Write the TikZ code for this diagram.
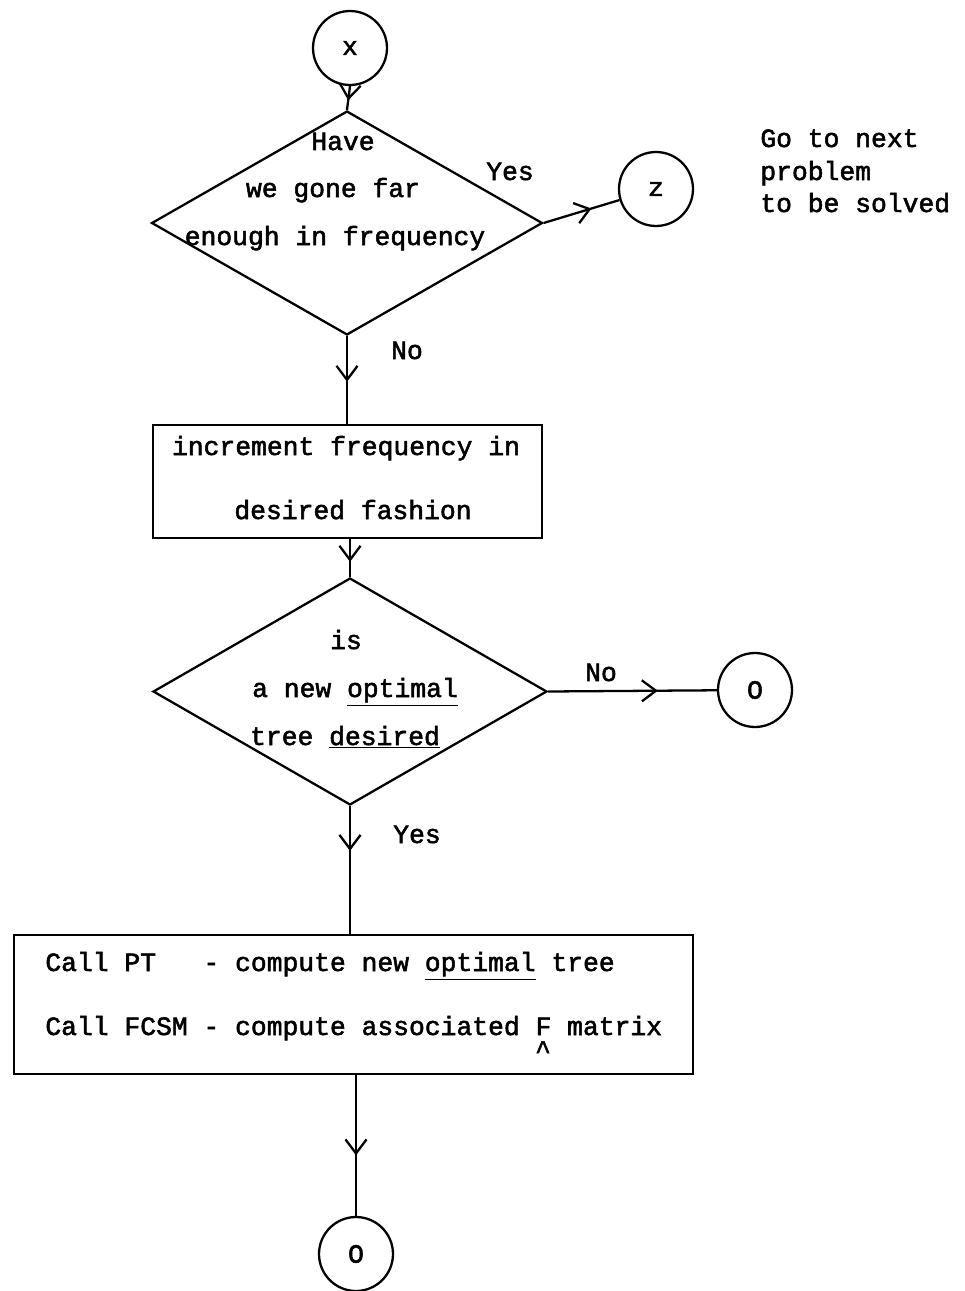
\documentclass[tikz,border=0pt]{standalone}
\usepackage{fontspec}
\newfontfamily\tw[FakeBold=2]{Liberation Mono}
\usetikzlibrary{shapes.geometric,arrows.meta,decorations.markings}
\begin{document}
\frenchspacing
\begin{tikzpicture}[x=0.02cm,y=-0.02cm,
  every node/.style={font=\tw\fontsize{15}{18}\selectfont},
  ln/.style={line width=1.3pt},
  circ/.style={draw,circle,line width=1.3pt,minimum size=1.48cm,inner sep=0pt},
  dia/.style={draw,diamond,line width=1.3pt,inner sep=0pt},
  box/.style={draw,rectangle,line width=1.3pt,inner sep=0pt},
  txt/.style={anchor=base,inner sep=0pt},
  txtl/.style={anchor=base west,inner sep=0pt},
  mid/.style={postaction={decorate},decoration={markings,mark=at position #1 with {\arrow{Straight Barb[length=8pt,width=12pt,line width=1.3pt]}}}}
]
\useasboundingbox (0,0) rectangle (964,1291);

% shapes
\node[circ] (x) at (350,48) {x};
\node[dia,minimum width=7.82cm,minimum height=4.48cm] (d1) at (347,223) {};
\node[circ] (z) at (656,189) {z};
\node[box,minimum width=7.78cm,minimum height=2.26cm] (b1) at (347.5,481.5) {};
\node[dia,minimum width=7.88cm,minimum height=4.54cm] (d2) at (350,691.5) {};
\node[circ] (o1) at (755,690) {O};
\node[box,minimum width=13.58cm,minimum height=2.78cm] (b2) at (353.5,1004.5) {};
\node[circ] (o2) at (356,1254) {O};

% texts
\node[txt] (t1) at (343,150) {Have};
\node[txt] (t2) at (333,197) {we gone far};
\node[txt] (t3) at (335,245) {enough in frequency};
\node[txt] (yes1) at (510,180) {Yes};
\node[txtl] (g1) at (760,147) {Go to next};
\node[txtl] (g2) at (760,180) {problem};
\node[txtl] (g3) at (760,212) {to be solved};
\node[txt] (no1) at (407,359) {No};
\node[txt] (b1a) at (346,455) {increment frequency in};
\node[txt] (b1b) at (353,519) {desired fashion};
\node[txt] (s1) at (346,649) {is};
\node[txt] (s2) at (355,697) {a new \underline{optimal}};
\node[txt] (s3) at (345,745) {tree \underline{desired}};
\node[txt] (no2) at (601,681) {No};
\node[txt] (yes2) at (417,843) {Yes};
\node[txtl] (c1) at (45,971) {Call PT\ \ \ - compute new \underline{optimal} tree};
\node[txtl] (c2) at (45,1035) {Call FCSM - compute associated F matrix};
\node[anchor=north,inner sep=0pt] (hat) at (543,1041) {\textasciicircum};

% connectors
\draw[ln,mid=0.6] (x.south) -- (d1.north);
\draw[ln,mid=0.63] (d1.east) -- (z);
\draw[ln,mid=0.52] (d1.south) -- (d1.south |- b1.north);
\draw[ln,mid=0.6] (b1.south -| d2.north) -- (d2.north);
\draw[ln,mid=0.65] (d2.east) -- (o1);
\draw[ln,mid=0.35] (d2.south) -- (d2.south |- b2.north);
\draw[ln,mid=0.57] (b2.south -| o2.north) -- (o2.north);
\end{tikzpicture}
\end{document}
